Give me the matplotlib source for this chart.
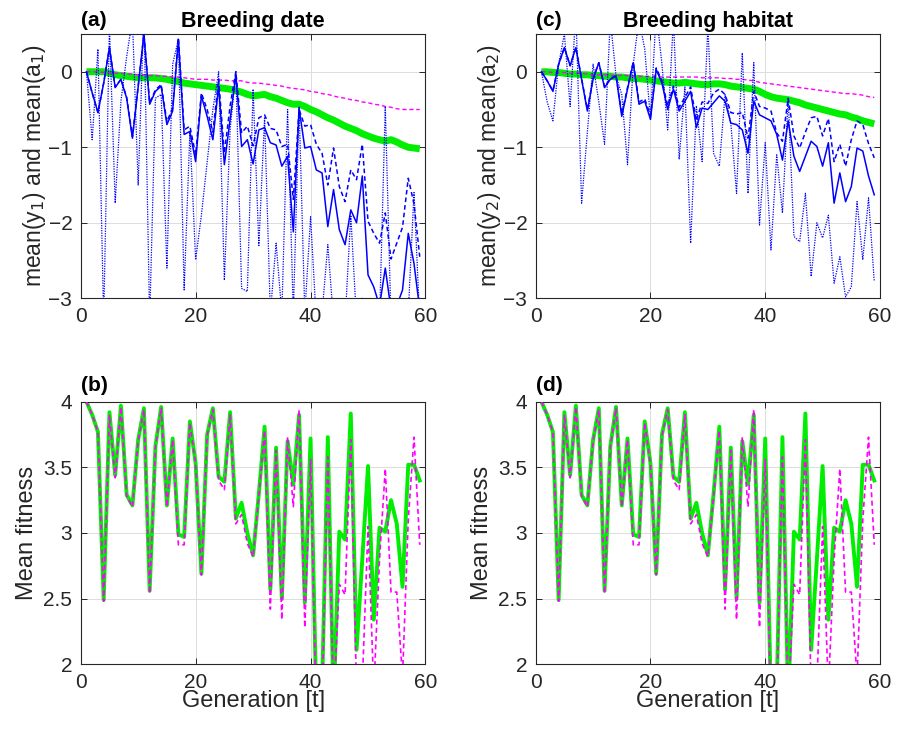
import numpy as np
import matplotlib
matplotlib.use("Agg")
import matplotlib.pyplot as plt

plt.rcParams['font.family'] = ['Liberation Sans', 'DejaVu Sans']

gen = list(range(1, 60))

# ---------- Panel (a): breeding date ----------
green_a = [0.00, 0.00, 0.00, 0.00, -0.02, -0.04, -0.05, -0.06, -0.07, -0.08,
           -0.08, -0.08, -0.08, -0.09, -0.10, -0.12, -0.13, -0.15, -0.16, -0.17,
           -0.18, -0.19, -0.20, -0.21, -0.22, -0.23, -0.25, -0.27, -0.30, -0.32,
           -0.31, -0.30, -0.33, -0.35, -0.38, -0.41, -0.43, -0.43, -0.46, -0.50,
           -0.53, -0.57, -0.61, -0.64, -0.68, -0.72, -0.75, -0.78, -0.82, -0.85,
           -0.88, -0.90, -0.92, -0.90, -0.93, -0.97, -1.00, -1.01, -1.02]
mag_a = [0.00, 0.00, 0.00, -0.01, -0.01, -0.02, -0.02, -0.03, -0.03, -0.04,
         -0.04, -0.05, -0.05, -0.06, -0.06, -0.07, -0.07, -0.08, -0.09, -0.10,
         -0.10, -0.10, -0.11, -0.11, -0.11, -0.12, -0.12, -0.12, -0.14, -0.15,
         -0.15, -0.16, -0.17, -0.18, -0.19, -0.21, -0.22, -0.23, -0.24, -0.26,
         -0.27, -0.29, -0.30, -0.32, -0.34, -0.35, -0.37, -0.38, -0.40, -0.41,
         -0.43, -0.44, -0.46, -0.47, -0.49, -0.50, -0.50, -0.50, -0.50]
solid_a = [0.00, -0.28, -0.54, -0.15, 0.32, -0.21, -0.10, -0.35, -0.88, -0.20,
           0.50, -0.43, -0.26, -0.19, -0.70, -0.52, 0.43, -0.83, -0.79, -1.19,
           -0.32, -0.59, -0.90, -0.19, -1.23, -0.63, -0.04, -0.99, -0.90, -1.22,
           -0.77, -0.74, -0.94, -0.97, -1.25, -1.12, -2.12, -0.48, -1.01, -0.99,
           -1.30, -1.34, -2.05, -1.56, -2.09, -2.29, -1.83, -2.00, -1.38, -2.69,
           -2.85, -3.10, -2.60, -3.15, -3.10, -2.89, -2.14, -2.54, -3.15]
dashed_a = [0.00, -0.28, -0.54, -0.15, 0.32, -0.20, -0.10, -0.34, -0.86, -0.19,
            0.50, -0.41, -0.24, -0.17, -0.66, -0.48, 0.45, -0.77, -0.72, -1.10,
            -0.28, -0.50, -0.80, -0.10, -1.08, -0.45, 0.00, -0.81, -0.72, -0.98,
            -0.61, -0.57, -0.75, -0.77, -0.99, -0.96, -1.69, -0.50, -0.72, -0.70,
            -0.96, -1.08, -1.50, -1.01, -1.52, -1.72, -1.30, -1.43, -0.96, -1.98,
            -2.14, -2.27, -1.87, -2.48, -2.27, -2.06, -1.41, -1.75, -2.45]
dotted_a = [0.00, -0.90, 0.30, -3.30, 0.60, -1.74, -0.39, 0.20, 0.70, -1.50,
            0.80, -3.30, -0.35, -0.30, -2.60, 0.10, 0.43, -2.89, -0.80, -2.49,
            -1.90, -1.20, -0.50, 0.00, -2.76, -0.77, 0.00, -2.87, -2.91, -0.23,
            -2.30, -0.60, -3.20, -2.27, -3.20, -0.50, -3.20, -0.46, -3.20, -1.92,
            -3.30, -3.20, -2.29, -3.30, -3.20, -3.30, -1.90, -3.30, -3.00, -3.40,
            -3.30, -3.30, -0.46, -3.30, -3.40, -3.30, -3.20, -1.60, -3.30]

# ---------- Panel (c): breeding habitat ----------
green_c = [0.00, 0.00, -0.01, -0.01, -0.02, -0.03, -0.03, -0.04, -0.04, -0.05,
           -0.05, -0.06, -0.06, -0.07, -0.07, -0.08, -0.09, -0.09, -0.10, -0.11,
           -0.12, -0.13, -0.14, -0.15, -0.15, -0.14, -0.15, -0.16, -0.17, -0.17,
           -0.16, -0.16, -0.17, -0.19, -0.20, -0.21, -0.22, -0.23, -0.26, -0.30,
           -0.33, -0.35, -0.36, -0.37, -0.39, -0.41, -0.44, -0.46, -0.48, -0.50,
           -0.52, -0.54, -0.56, -0.57, -0.60, -0.62, -0.65, -0.67, -0.69]
mag_c = [0.00, 0.00, -0.01, -0.01, -0.01, -0.02, -0.02, -0.02, -0.03, -0.04,
         -0.04, -0.04, -0.05, -0.05, -0.05, -0.05, -0.06, -0.06, -0.06, -0.06,
         -0.06, -0.07, -0.07, -0.07, -0.07, -0.07, -0.07, -0.07, -0.08, -0.08,
         -0.08, -0.08, -0.09, -0.09, -0.10, -0.10, -0.11, -0.12, -0.14, -0.15,
         -0.16, -0.17, -0.18, -0.19, -0.20, -0.21, -0.22, -0.23, -0.24, -0.25,
         -0.26, -0.27, -0.28, -0.29, -0.29, -0.30, -0.31, -0.33, -0.34]
solid_c = [0.00, -0.12, -0.26, 0.10, 0.32, 0.08, 0.32, -0.10, -0.52, -0.10,
           0.12, -0.21, -0.10, -0.06, -0.59, -0.23, 0.12, -0.43, -0.39, -0.63,
           0.03, -0.15, -0.50, -0.23, -0.52, -0.39, -0.26, -0.74, -0.48, -0.50,
           -0.41, -0.32, -0.39, -0.68, -0.70, -0.77, -1.08, -0.39, -0.57, -0.61,
           -0.65, -0.83, -1.17, -0.65, -1.12, -1.32, -1.12, -0.92, -0.99, -1.25,
           -0.94, -1.74, -1.34, -1.72, -1.52, -1.01, -1.05, -1.38, -1.63]
dashed_c = [0.00, -0.12, -0.25, 0.10, 0.32, 0.08, 0.32, -0.09, -0.50, -0.09,
            0.12, -0.20, -0.09, -0.05, -0.56, -0.21, 0.13, -0.40, -0.36, -0.58,
            0.05, -0.12, -0.45, -0.19, -0.47, -0.34, -0.20, -0.65, -0.40, -0.42,
            -0.28, -0.23, -0.30, -0.54, -0.56, -0.54, -0.88, -0.26, -0.46, -0.48,
            -0.52, -0.81, -0.92, -0.35, -0.85, -1.01, -0.80, -0.61, -0.59, -0.85,
            -0.62, -1.19, -0.96, -1.25, -0.90, -0.65, -0.70, -0.95, -1.14]
dotted_c = [0.00, -0.40, -0.65, 0.10, 0.50, -0.46, 0.80, -1.74, -0.80, 0.10,
            -0.40, -0.96, 0.70, -0.06, -0.30, -1.23, 0.10, 0.70, 0.30, -0.63,
            0.80, 0.10, -0.77, 0.70, -1.16, -0.20, -2.27, -0.45, -1.19, 0.60,
            -1.08, -1.25, -0.30, -0.68, -1.61, 0.25, -1.61, 0.12, -2.03, -0.94,
            -2.36, -1.10, -1.87, -0.35, -2.18, -2.25, -1.61, -2.71, -2.00, -2.20,
            -1.90, -2.80, -2.45, -2.98, -2.85, -1.72, -2.49, -1.67, -2.78]

# ---------- Panels (b) and (d): mean fitness ----------
fit_green = [4.00, 3.90, 3.77, 2.49, 3.92, 3.44, 3.97, 3.29, 3.21, 3.71,
             3.95, 2.56, 3.66, 3.96, 3.21, 3.72, 2.99, 2.97, 3.85, 3.53,
             2.69, 3.75, 3.95, 3.43, 3.39, 3.92, 3.11, 3.23, 3.00, 2.83,
             3.30, 3.81, 2.57, 3.65, 2.50, 3.70, 3.37, 3.90, 2.47, 3.72,
             1.70, 1.80, 3.73, 1.70, 3.01, 2.95, 3.91, 2.11, 2.80, 3.51,
             2.34, 3.04, 3.01, 3.25, 3.07, 2.59, 3.52, 3.52, 3.40]
fit_magenta = [4.00, 3.90, 3.77, 2.48, 3.90, 3.42, 3.96, 3.28, 3.20, 3.70,
               3.94, 2.54, 3.65, 3.95, 3.20, 3.71, 2.91, 2.91, 3.84, 3.52,
               2.68, 3.74, 3.94, 3.40, 3.33, 3.90, 3.07, 3.14, 2.92, 2.82,
               3.28, 3.78, 2.42, 3.63, 2.34, 3.73, 3.20, 3.94, 2.28, 3.56,
               1.60, 1.70, 3.58, 1.70, 2.61, 2.53, 3.71, 1.80, 1.85, 3.05,
               1.80, 2.80, 3.49, 2.55, 2.55, 1.90, 3.10, 3.73, 2.91]

titles = ['Breeding date', 'Breeding habitat']
panel_top = ['(a)', '(c)']
panel_bot = ['(b)', '(d)']
ylabels_top = ['mean(y$_1$) and mean(a$_1$)', 'mean(y$_2$) and mean(a$_2$)']

W, H = 904, 731
fig = plt.figure(figsize=(W / 100, H / 100), dpi=100)

def px_axes(l, r, t, b):
    return fig.add_axes([l / W, 1 - b / H, (r - l) / W, (b - t) / H])

def style(ax):
    ax.grid(True, color='#dcdcdc', linewidth=0.7)
    ax.set_axisbelow(True)
    ax.tick_params(direction='in', length=4, width=0.7, top=True, right=True,
                   labelsize=15, colors='#262626', pad=6)
    for s in ax.spines.values():
        s.set_color('#262626')
        s.set_linewidth(0.8)
    ax.set_xlim(0, 60)
    ax.set_xticks([0, 20, 40, 60])

lefts = [80.7, 535.7]
rights = [425.5, 880.0]
top_data = [(green_a, mag_a, solid_a, dashed_a, dotted_a),
            (green_c, mag_c, solid_c, dashed_c, dotted_c)]

for i in range(2):
    ax = px_axes(lefts[i], rights[i], 34, 298.3)
    g, m, s, d, dt = top_data[i]
    ax.plot(gen, g, color='#00ee00', linewidth=5, solid_capstyle='butt', zorder=2)
    ax.plot(gen, m, color='#ff00ff', linewidth=1, linestyle=(0, (3, 2)), zorder=3)
    ax.plot(gen, dt, color='#0000ff', linewidth=0.9, linestyle=(0, (1, 1)), zorder=3)
    ax.plot(gen, d, color='#0000ff', linewidth=1.1, linestyle=(0, (3, 2)), zorder=4)
    ax.plot(gen, s, color='#0000ff', linewidth=1.1, zorder=4)
    style(ax)
    ax.set_ylim(-3, 0.5)
    ax.set_yticks([-3, -2, -1, 0])
    ax.set_ylabel(ylabels_top[i], fontsize=16.5, color='#262626', labelpad=0)
    ax.set_title(titles[i], fontsize=15.5, fontweight='bold', pad=5)
    ax.text(0.0, 1.015, panel_top[i], transform=ax.transAxes, fontsize=15,
            fontweight='bold', ha='left', va='bottom')

    axb = px_axes(lefts[i], rights[i], 401.7, 664.3)
    axb.plot(gen, fit_green, color='#00ee00', linewidth=2.8, zorder=2)
    axb.plot(gen, fit_magenta, color='#ff00ff', linewidth=1.2,
             linestyle=(0, (3, 2)), zorder=3)
    style(axb)
    axb.set_ylim(2, 4)
    axb.set_yticks([2, 2.5, 3, 3.5, 4])
    axb.set_yticklabels(['2', '2.5', '3', '3.5', '4'])
    axb.set_ylabel('Mean fitness', fontsize=17, color='#262626', labelpad=4)
    axb.set_xlabel('Generation [t]', fontsize=17, color='#262626', labelpad=-1)
    axb.text(0.0, 1.025, panel_bot[i], transform=axb.transAxes, fontsize=15,
             fontweight='bold', ha='left', va='bottom')

fig.savefig('out.png', dpi=100, facecolor='white')
